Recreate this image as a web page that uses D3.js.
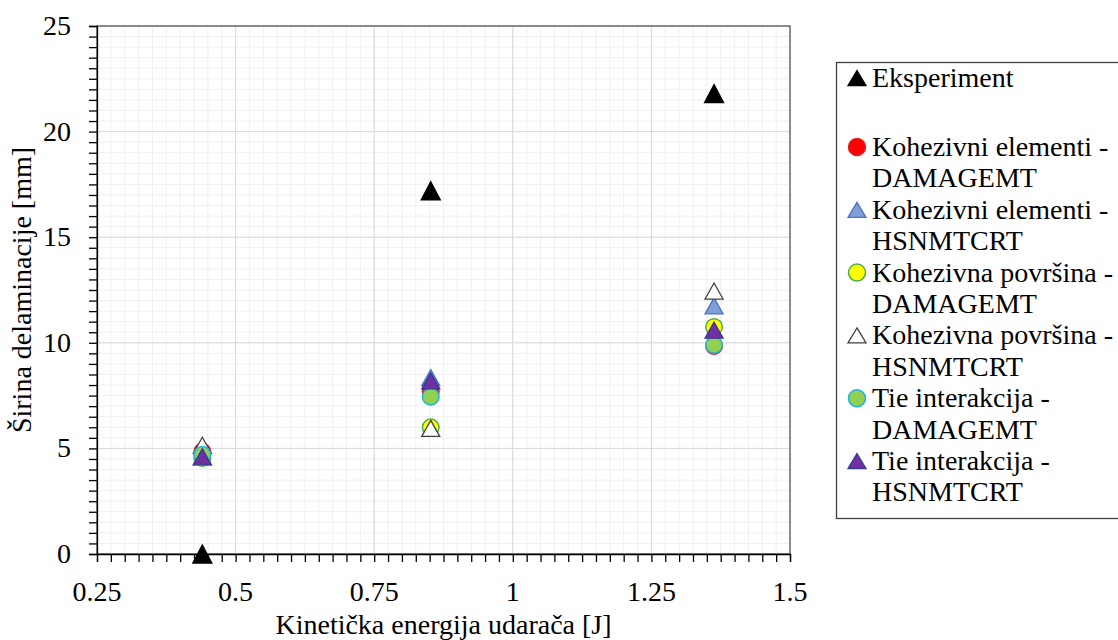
<!DOCTYPE html>
<html><head><meta charset="utf-8">
<script src="https://cdn.jsdelivr.net/npm/d3@7"></script>
<style>body{margin:0;background:#fff}svg{display:block}</style>
</head><body><svg id="c" width="1118" height="640"></svg>
<script>
const xTicks=[0.25,0.5,0.75,1,1.25,1.5];
const xTickLabels=["0.25","0.5","0.75","1","1.25","1.5"];
const yTicks=[0,5,10,15,20,25];
const energies=[0.44,0.852,1.363];
const legendLines=[["Eksperiment"],["Kohezivni elementi -","DAMAGEMT"],["Kohezivni elementi -","HSNMTCRT"],["Kohezivna površina -","DAMAGEMT"],["Kohezivna površina -","HSNMTCRT"],["Tie interakcija -","DAMAGEMT"],["Tie interakcija -","HSNMTCRT"]];
const eksperiment=[0,17.2,21.8];
const kohElDamage=[4.85,7.7,9.85];
const kohElHsn=[4.6,8.35,11.75];
const kohPovDamage=[4.55,6.0,10.75];
const kohPovHsn=[5.15,5.95,12.45];
const tieDamage=[4.7,7.45,9.9];
const tieHsn=[4.6,8.2,10.6];
const seriesValues=[eksperiment,kohElDamage,kohElHsn,kohPovDamage,kohPovHsn,tieDamage,tieHsn];
const shapes=["tri","circle","tri","circle","tri","circle","tri"];
const fills=["#000000","#ff0000","#7f9fd6","#ffff00","#ffffff","#92d050","#7030a0"];
const strokes=["#000000","#e02020","#4a72c4","#4cae4c","#404040","#1fb0e8","#34389a"];
const FONT="'Liberation Serif','Times New Roman',serif";

const svg=d3.select("#c");
const L=97,R=790,T=26,B=554;
const x=d3.scaleLinear().domain([0.25,1.5]).range([L,R]);
const y=d3.scaleLinear().domain([0,25]).range([B,T]);

const g=svg.append("g");
const xMinor=d3.range(0,51).map(i=>0.25+i*0.025);
const yMinor=d3.range(0,51).map(i=>i*0.5);
g.selectAll(".vx").data(xMinor).enter().append("line")
 .attr("x1",d=>x(d)).attr("x2",d=>x(d)).attr("y1",T).attr("y2",B).attr("stroke","#f0f0f0");
g.selectAll(".hy").data(yMinor).enter().append("line")
 .attr("y1",d=>y(d)).attr("y2",d=>y(d)).attr("x1",L).attr("x2",R).attr("stroke","#f0f0f0");
g.selectAll(".vxm").data(xTicks).enter().append("line")
 .attr("x1",d=>x(d)).attr("x2",d=>x(d)).attr("y1",T).attr("y2",B).attr("stroke","#d9d9d9");
g.selectAll(".hym").data(yTicks).enter().append("line")
 .attr("y1",d=>y(d)).attr("y2",d=>y(d)).attr("x1",L).attr("x2",R).attr("stroke","#d9d9d9");

svg.append("rect").attr("x",L).attr("y",T).attr("width",R-L).attr("height",B-T)
 .attr("fill","none").attr("stroke","#595959").attr("stroke-width",1.3);

const xAxis=d3.axisBottom(x).tickValues(xMinor).tickSize(8).tickFormat(()=>"");
svg.append("g").attr("transform",`translate(0,${B})`).call(xAxis)
 .call(s=>{s.select(".domain").attr("stroke","#000").attr("stroke-width",1.3);s.selectAll("line").attr("stroke","#000").attr("stroke-width",1.3);});
const yAxis=d3.axisLeft(y).tickValues(yMinor).tickSize(8).tickFormat(()=>"");
svg.append("g").attr("transform",`translate(${L},0)`).call(yAxis)
 .call(s=>{s.select(".domain").attr("stroke","#000").attr("stroke-width",1.3);s.selectAll("line").attr("stroke","#000").attr("stroke-width",1.3);});

svg.selectAll(".xl").data(xTicks).enter().append("text")
 .attr("x",d=>x(d)).attr("y",B+47).attr("text-anchor","middle").style("font-size","28px").style("font-family",FONT)
 .text((d,i)=>xTickLabels[i]);
svg.selectAll(".yl").data(yTicks).enter().append("text")
 .attr("x",L-26).attr("y",d=>y(d)+9).attr("text-anchor","end").style("font-size","28px").style("font-family",FONT)
 .text(d=>d);

svg.append("text").attr("x",(L+R)/2).attr("y",634).attr("text-anchor","middle").style("font-size","28px").style("font-family",FONT)
 .text("Kinetička energija udarača [J]");
svg.append("text").attr("transform",`translate(31,${(T+B)/2}) rotate(-90)`).attr("text-anchor","middle").style("font-size","28px").style("font-family",FONT)
 .text("Širina delaminacije [mm]");

function tri(cx,cy,w,h){return `M${cx},${cy-h/2}L${cx+w/2},${cy+h/2}L${cx-w/2},${cy+h/2}Z`;}
function marker(sel,shape,cx,cy,fill,stroke,big){
  if(shape==="circle"){
    sel.append("circle").attr("cx",cx).attr("cy",cy).attr("r",8.3).attr("fill",fill).attr("stroke",stroke).attr("stroke-width",1.5);
  } else {
    sel.append("path").attr("d",tri(cx,cy,big?19:18,big?18:16)).attr("fill",fill).attr("stroke",stroke).attr("stroke-width",1.3);
  }
}
const pg=svg.append("g");
seriesValues.forEach((vals,si)=>{
  const sg=pg.append("g");
  vals.forEach((v,i)=>marker(sg,shapes[si],x(energies[i]),y(v),fills[si],strokes[si],si===0));
});

const lg=svg.append("g");
lg.append("rect").attr("x",836.5).attr("y",62.5).attr("width",300).attr("height",456)
 .attr("fill","#fff").attr("stroke","#404040").attr("stroke-width",1.3);
const lineH=31.4;
legendLines.forEach((lines,si)=>{
  const y0= si===0 ? 78 : 147+(si-1)*2*lineH;
  const sg=lg.append("g");
  if(shapes[si]==="circle") sg.append("circle").attr("cx",857).attr("cy",y0).attr("r",8.5).attr("fill",fills[si]).attr("stroke",strokes[si]).attr("stroke-width",1.5);
  else sg.append("path").attr("d",tri(857,y0,18,15)).attr("fill",fills[si]).attr("stroke",strokes[si]).attr("stroke-width",1.3);
  lines.forEach((t,j)=>{
    sg.append("text").attr("x",872).attr("y",y0+j*lineH+9).style("font-size","28px").style("font-family",FONT).text(t);
  });
});
</script></body></html>
